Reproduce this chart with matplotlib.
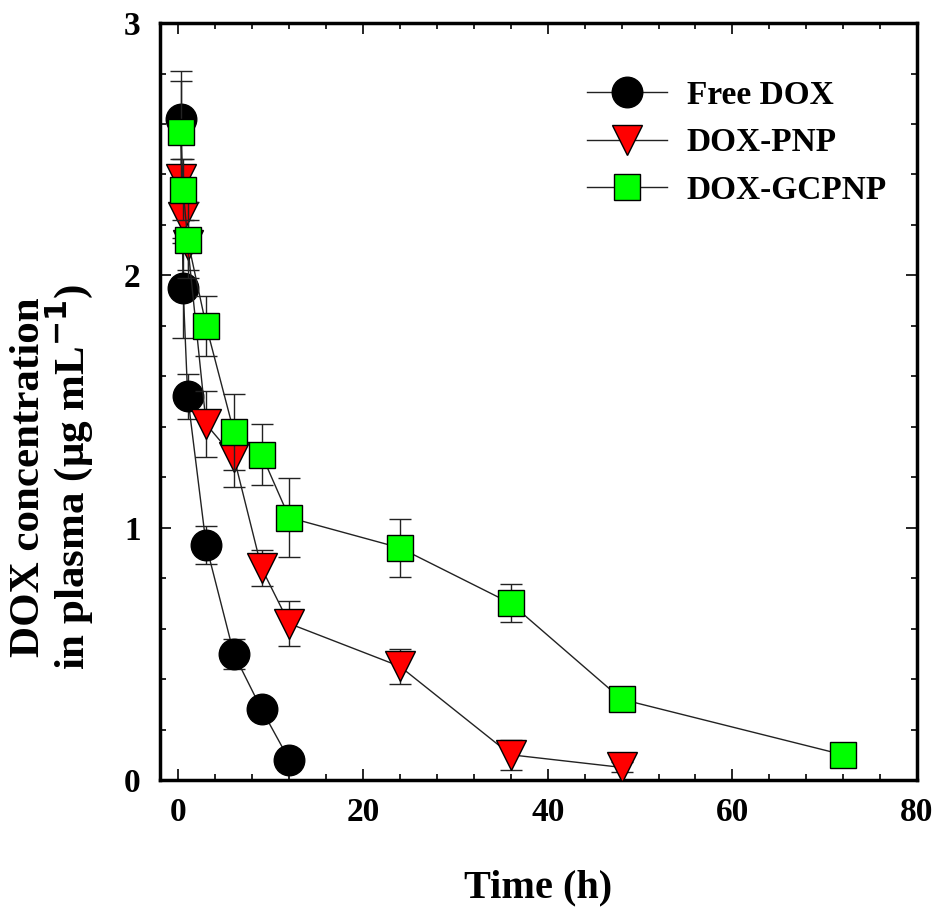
import matplotlib
matplotlib.use("Agg")
import matplotlib.pyplot as plt
from matplotlib.ticker import MultipleLocator

plt.rcParams['font.family'] = ['Liberation Serif', 'DejaVu Serif']
plt.rcParams['font.weight'] = 'bold'

# Data
free_t = [0.25, 0.5, 1, 3, 6, 9, 12]
free_c = [2.62, 1.95, 1.52, 0.93, 0.50, 0.28, 0.08]
free_e = [0.19, 0.20, 0.09, 0.075, 0.06, 0.03, 0.02]

pnp_t = [0.25, 0.5, 1, 3, 6, 9, 12, 24, 36, 48]
pnp_c = [2.38, 2.23, 2.12, 1.41, 1.28, 0.84, 0.62, 0.45, 0.10, 0.05]
pnp_e = [0.08, 0.10, 0.10, 0.13, 0.12, 0.07, 0.09, 0.07, 0.06, 0.02]

gc_t = [0.25, 0.5, 1, 3, 6, 9, 12, 24, 36, 48, 72]
gc_c = [2.57, 2.34, 2.14, 1.80, 1.38, 1.29, 1.04, 0.92, 0.70, 0.32, 0.10]
gc_e = [0.20, 0.12, 0.15, 0.12, 0.15, 0.12, 0.155, 0.115, 0.075, 0.03, 0.02]

series = [
    ("Free DOX", free_t, free_c, free_e, "o", "black", 22),
    ("DOX-PNP", pnp_t, pnp_c, pnp_e, "v", "#ff0000", 22),
    ("DOX-GCPNP", gc_t, gc_c, gc_e, "s", "#00ff00", 19),
]

fig = plt.figure(figsize=(9.38, 9.07), dpi=100)
ax = fig.add_axes([0.1706, 0.140, 0.807, 0.8346])

handles = []
for i, (lab, t, c, e, m, col, ms) in enumerate(series):
    h = ax.errorbar(t, c, yerr=e, fmt=m + '-', color='#222222', ecolor='#222222',
                    elinewidth=1.0, capsize=8, capthick=1.0, lw=1.0,
                    marker=m, markersize=ms, markerfacecolor=col,
                    markeredgecolor='black', markeredgewidth=1.0,
                    label=lab, zorder=3 + i)
    handles.append(h)

ax.set_xlim(-2, 80)
ax.set_ylim(0, 3)
ax.xaxis.set_major_locator(MultipleLocator(20))
ax.xaxis.set_minor_locator(MultipleLocator(4))
ax.yaxis.set_major_locator(MultipleLocator(1))
ax.yaxis.set_minor_locator(MultipleLocator(0.2))
ax.tick_params(which='both', direction='in', top=True, right=True, width=1.2)
ax.tick_params(which='major', length=8, labelsize=24)
ax.tick_params(axis='x', which='major', pad=12)
ax.tick_params(axis='y', which='major', pad=14)
ax.tick_params(which='minor', length=4)
for lbl in ax.get_xticklabels() + ax.get_yticklabels():
    lbl.set_fontweight('bold')
for s in ax.spines.values():
    s.set_linewidth(2.5)

ax.set_xlabel("Time (h)", fontsize=29, fontweight='bold', labelpad=30)
ax.set_ylabel("DOX concentration\nin plasma (μg mL$^{\\mathbf{-1}}$)", fontsize=31,
              fontweight='bold', linespacing=0.9)
ax.yaxis.set_label_coords(-0.086, 0.40)

leg = ax.legend(handles=[h[0] for h in handles],
                labels=[s[0] for s in series],
                loc='upper right', bbox_to_anchor=(1.0, 0.965), frameon=False,
                fontsize=24, handlelength=2.4, handletextpad=0.6,
                labelspacing=0.5, numpoints=1)
for txt in leg.get_texts():
    txt.set_fontweight('bold')

fig.savefig("out.png", dpi=100)
